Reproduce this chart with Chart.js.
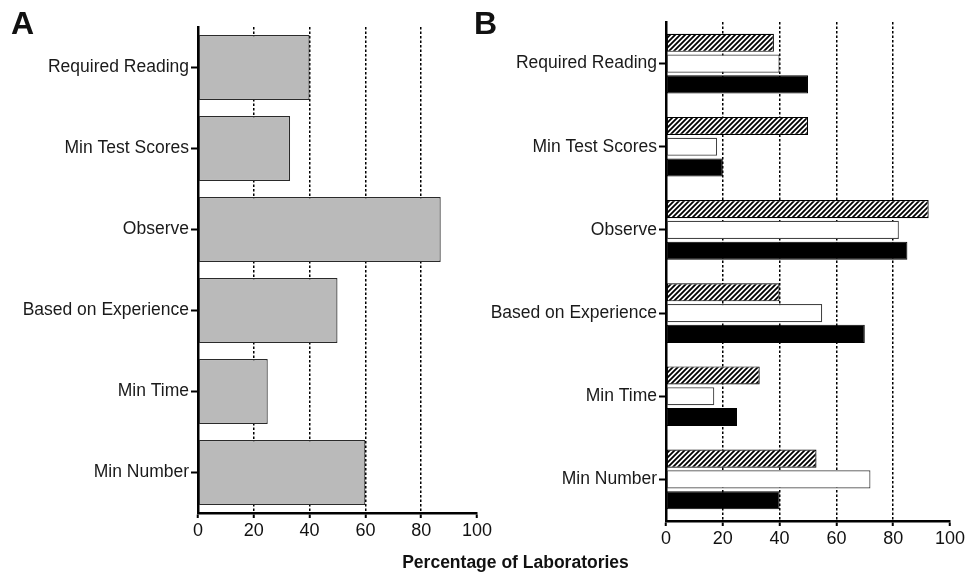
<!DOCTYPE html>
<html>
<head>
<meta charset="utf-8">
<script src="https://cdn.jsdelivr.net/npm/chart.js@4.4.1/dist/chart.umd.min.js"></script>
<style>
  html, body { margin: 0; padding: 0; background: #fff; }
  #wrap { position: relative; width: 967px; height: 576px; overflow: hidden; font-family: "Liberation Sans", Arial, Helvetica, sans-serif; }
  canvas { position: absolute; }
  .panel { position: absolute; font-weight: bold; font-size: 32px; color: #111; line-height: 1; }
  #xtitle { position: absolute; left: 0; width: 1031px; top: 552px; text-align: center; font-weight: bold; font-size: 17.5px; color: #111; }
</style>
</head>
<body>
<div id="wrap">
  <canvas id="cA" width="494" height="545" style="left:0;top:0;width:494px;height:545px"></canvas>
  <canvas id="cB" width="497" height="553" style="left:470px;top:0;width:497px;height:553px"></canvas>
  <div class="panel" style="left:11px;top:7px">A</div>
  <div class="panel" style="left:474px;top:7px">B</div>
  <div id="xtitle">Percentage of Laboratories</div>
</div>
<script>
const categories = ['Required Reading', 'Min Test Scores', 'Observe', 'Based on Experience', 'Min Time', 'Min Number'];
const panelAValues = [40, 33, 87, 50, 25, 60];
const hatchedValues = [38, 50, 92.5, 40, 33, 53];
const whiteValues = [40, 18, 82, 55, 17, 72];
const blackValues = [50, 20, 85, 70, 25, 40];
const xTicks = [0, 20, 40, 60, 80, 100];

const FONT = '"Liberation Sans", Arial, Helvetica, sans-serif';

function makeHatch() {
  const s = 5;
  const c = document.createElement('canvas');
  c.width = s; c.height = s;
  const g = c.getContext('2d');
  g.fillStyle = '#fff';
  g.fillRect(0, 0, s, s);
  g.strokeStyle = '#000';
  g.lineWidth = 1.8;
  g.beginPath();
  g.moveTo(0, s); g.lineTo(s, 0);
  g.moveTo(-1, 1); g.lineTo(1, -1);
  g.moveTo(s - 1, s + 1); g.lineTo(s + 1, s - 1);
  g.stroke();
  return g.createPattern(c, 'repeat');
}

function scalesFor(yWidth, xHeight) {
  return {
    x: {
      type: 'linear',
      min: 0, max: 100,
      afterBuildTicks: (s) => { s.ticks = xTicks.map(v => ({ value: v })); },
      afterFit: (s) => { s.height = xHeight; },
      ticks: { color: '#111', font: { family: FONT, size: 18 }, padding: 2, maxRotation: 0 },
      grid: {
        drawOnChartArea: true,
        color: (ctx) => (ctx.tick && ctx.tick.value > 0 && ctx.tick.value < 100) ? '#000' : 'rgba(0,0,0,0)',
        lineWidth: 1.5,
        tickColor: '#000',
        tickWidth: 2,
        tickLength: 5
      },
      border: { display: true, color: '#000', width: 2.5, dash: [2.5, 2] }
    },
    y: {
      type: 'category',
      afterFit: (s) => { s.width = yWidth; },
      ticks: { color: '#1a1a1a', font: { family: FONT, size: 17.5 }, padding: 2 },
      grid: {
        drawOnChartArea: false,
        offset: false,
        tickColor: '#000',
        tickWidth: 2,
        tickLength: 7
      },
      border: { display: true, color: '#000', width: 2.5 }
    }
  };
}

const common = {
  indexAxis: 'y',
  responsive: false,
  maintainAspectRatio: false,
  animation: false,
  plugins: { legend: { display: false }, tooltip: { enabled: false }, title: { display: false } }
};

new Chart(document.getElementById('cA'), {
  type: 'bar',
  data: {
    labels: categories,
    datasets: [{
      data: panelAValues,
      backgroundColor: '#bababa',
      borderColor: '#2a2a2a',
      borderWidth: 1.2,
      borderSkipped: false,
      categoryPercentage: 0.8,
      barPercentage: 1.0
    }]
  },
  options: Object.assign({}, common, {
    layout: { padding: { left: 0, top: 27, right: 16, bottom: 0 } },
    scales: scalesFor(198, 32)
  })
});

const hatch = makeHatch();
new Chart(document.getElementById('cB'), {
  type: 'bar',
  data: {
    labels: categories,
    datasets: [
      { data: hatchedValues, backgroundColor: hatch, borderColor: '#000', borderWidth: 1.2, borderSkipped: false },
      { data: whiteValues, backgroundColor: '#fff', borderColor: '#444', borderWidth: 1.2, borderSkipped: false },
      { data: blackValues, backgroundColor: '#000', borderColor: '#000', borderWidth: 1, borderSkipped: false }
    ]
  },
  options: Object.assign({}, common, {
    datasets: { bar: { categoryPercentage: 0.75, barPercentage: 0.87 } },
    layout: { padding: { left: 0, top: 22, right: 15, bottom: 0 } },
    scales: scalesFor(196, 32)
  })
});
</script>
</body>
</html>
